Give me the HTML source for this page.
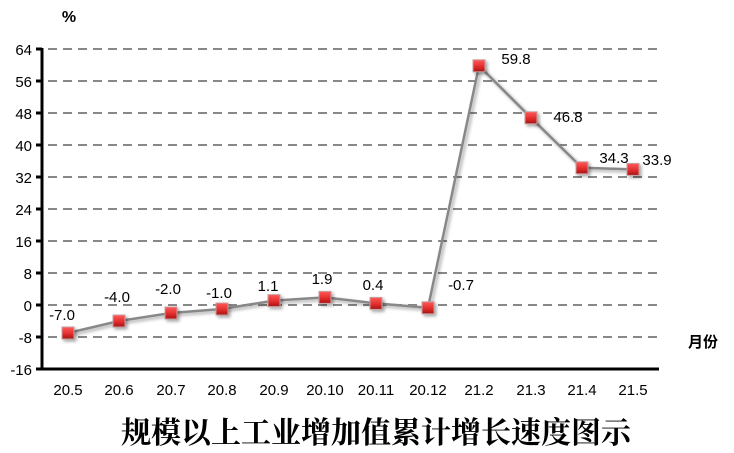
<!DOCTYPE html>
<html><head><meta charset="utf-8"><style>
body{margin:0;background:#fff}
svg{display:block}
text{font-family:"Liberation Sans","DejaVu Sans",sans-serif}
.cn{font-family:"Noto Serif CJK SC","Noto Sans CJK SC",serif}
.cns{font-family:"Noto Sans CJK SC",sans-serif}
</style></head><body>
<svg width="734" height="453" viewBox="0 0 734 453" xmlns="http://www.w3.org/2000/svg">
<defs>
<linearGradient id="rg" x1="0" y1="0" x2="0" y2="1">
<stop offset="0" stop-color="#ff5a5a"/><stop offset="0.6" stop-color="#e02a2a"/><stop offset="1" stop-color="#a01515"/>
</linearGradient>
<filter id="sh" x="-50%" y="-50%" width="200%" height="200%"><feDropShadow dx="2" dy="2" stdDeviation="1.5" flood-color="#000" flood-opacity="0.35"/></filter>
</defs>
<g stroke="#888" stroke-width="2" stroke-dasharray="9,6">
<line x1="48" y1="49" x2="658" y2="49"/><line x1="48" y1="81" x2="658" y2="81"/>
<line x1="48" y1="113" x2="658" y2="113"/><line x1="48" y1="145" x2="658" y2="145"/>
<line x1="48" y1="177" x2="658" y2="177"/><line x1="48" y1="209" x2="658" y2="209"/>
<line x1="48" y1="241" x2="658" y2="241"/><line x1="48" y1="273" x2="658" y2="273"/>
<line x1="48" y1="305" x2="658" y2="305"/><line x1="48" y1="337" x2="658" y2="337"/>
</g>
<line x1="42" y1="48" x2="42" y2="370" stroke="#000" stroke-width="3"/>
<line x1="41" y1="369" x2="659" y2="369" stroke="#000" stroke-width="3"/>
<g stroke="#000" stroke-width="3">
<line x1="36" y1="49" x2="42" y2="49"/><line x1="36" y1="81" x2="42" y2="81"/><line x1="36" y1="113" x2="42" y2="113"/><line x1="36" y1="145" x2="42" y2="145"/><line x1="36" y1="177" x2="42" y2="177"/><line x1="36" y1="209" x2="42" y2="209"/><line x1="36" y1="241" x2="42" y2="241"/><line x1="36" y1="273" x2="42" y2="273"/><line x1="36" y1="305" x2="42" y2="305"/><line x1="36" y1="337" x2="42" y2="337"/><line x1="36" y1="369" x2="42" y2="369"/>
</g>
<g font-size="15" fill="#000" text-anchor="end">
<text x="32" y="55">64</text><text x="32" y="87">56</text><text x="32" y="119">48</text><text x="32" y="151">40</text><text x="32" y="183">32</text><text x="32" y="215">24</text><text x="32" y="247">16</text><text x="32" y="279">8</text><text x="32" y="311">0</text><text x="32" y="343">-8</text><text x="32" y="375">-16</text>
</g>
<text x="69" y="22" font-size="16" font-weight="bold" text-anchor="middle">%</text>
<text x="688" y="347" font-size="15" font-weight="bold" class="cns">月份</text>
<g font-size="15" text-anchor="middle">
<text x="68" y="395">20.5</text><text x="119" y="395">20.6</text><text x="171" y="395">20.7</text><text x="222" y="395">20.8</text><text x="274" y="395">20.9</text><text x="325" y="395">20.10</text><text x="376" y="395">20.11</text><text x="428" y="395">20.12</text><text x="479" y="395">21.2</text><text x="531" y="395">21.3</text><text x="582" y="395">21.4</text><text x="633" y="395">21.5</text>
</g>
<polyline fill="none" stroke="#888" stroke-width="2.5" filter="url(#sh)" points="68,333 119,321 171,313 222,309 274,300.6 325,297.4 376,303.4 428,307.8 479,65.8 531,117.8 582,167.8 633,169.4"/>
<g fill="url(#rg)" stroke="#c8a0a0" stroke-width="1" filter="url(#sh)">
<rect x="62" y="327" width="12" height="12"/><rect x="113" y="315" width="12" height="12"/><rect x="165" y="307" width="12" height="12"/><rect x="216" y="303" width="12" height="12"/><rect x="268" y="294.6" width="12" height="12"/><rect x="319" y="291.4" width="12" height="12"/><rect x="370" y="297.4" width="12" height="12"/><rect x="422" y="301.8" width="12" height="12"/><rect x="473" y="59.8" width="12" height="12"/><rect x="525" y="111.8" width="12" height="12"/><rect x="576" y="161.8" width="12" height="12"/><rect x="627" y="163.4" width="12" height="12"/>
</g>
<g font-size="15" text-anchor="middle">
<text x="62" y="320">-7.0</text><text x="117" y="302">-4.0</text><text x="168" y="294">-2.0</text><text x="219" y="298">-1.0</text><text x="268" y="291">1.1</text><text x="322" y="284">1.9</text><text x="373" y="290">0.4</text><text x="461" y="290">-0.7</text><text x="516" y="64">59.8</text><text x="568" y="122">46.8</text><text x="614" y="163">34.3</text><text x="657" y="165">33.9</text>
</g>
<text x="376" y="443" font-size="30" font-weight="bold" text-anchor="middle" class="cn">规模以上工业增加值累计增长速度图示</text>
</svg>
</body></html>
